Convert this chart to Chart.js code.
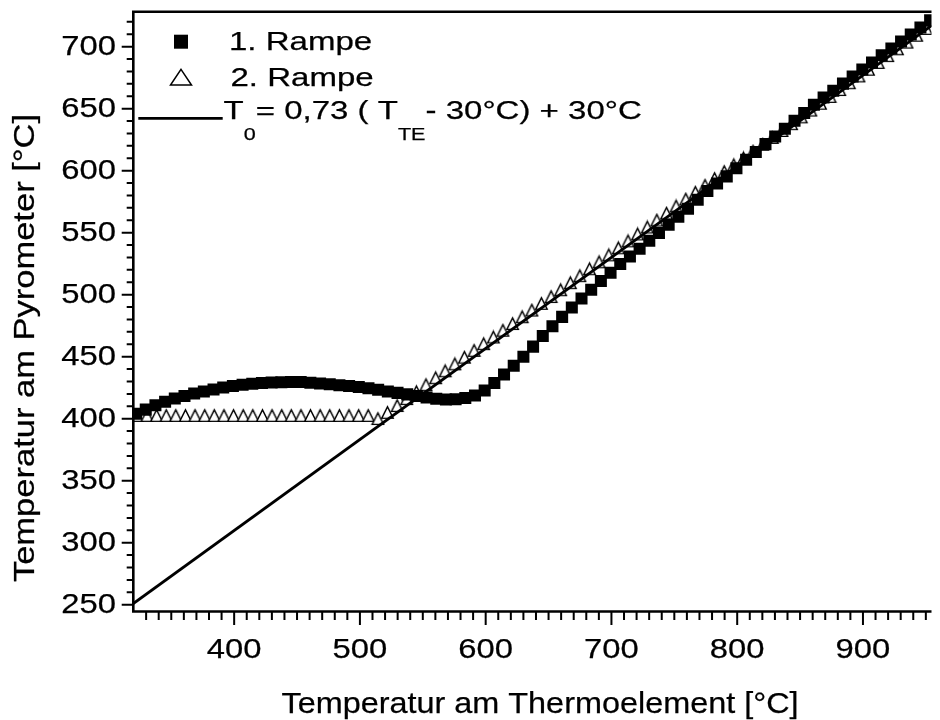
<!DOCTYPE html>
<html>
<head>
<meta charset="utf-8">
<script src="https://cdn.jsdelivr.net/npm/chart.js@4.4.1/dist/chart.umd.min.js"></script>
<style>
  html, body { margin: 0; padding: 0; background: #fff; }
  canvas { display: block; }
</style>
</head>
<body>
<canvas id="chart" width="940" height="720"></canvas>
<script>
// 1. Rampe (filled squares)
const rampe1X = [322, 329.7, 337.4, 345.1, 352.8, 360.5, 368.2, 375.9, 383.6, 391.3, 399, 406.7, 414.4, 422.1, 429.8,
    437.5, 445.2, 452.9, 460.6, 468.3, 476, 483.7, 491.4, 499.1, 506.8, 514.5, 522.2, 529.9, 537.6, 545.3, 553, 560.7,
    568.4, 576.1, 583.8, 591.5, 599.2, 606.9, 614.6, 622.3, 630, 637.7, 645.4, 653.1, 660.8, 668.5, 676.2, 683.9, 691.6,
    699.3, 707, 714.7, 722.4, 730.1, 737.8, 745.5, 753.2, 760.9, 768.6, 776.3, 784, 791.7, 799.4, 807.1, 814.8, 822.5,
    830.2, 837.9, 845.6, 853.3, 861, 868.7, 876.4, 884.1, 891.8, 899.5, 907.2, 914.9, 922.6, 930.3, 938, 945.7, 953.4]
const rampe1Y = [404.0, 407.3, 410.8, 413.6, 416.2, 418.3, 420.3, 422.0, 423.6, 425.2, 426.3, 427.3, 428.1, 428.7, 429.1,
    429.4, 429.6, 429.5, 429.0, 428.4, 427.7, 427.0, 426.3, 425.5, 424.5, 423.3, 422.0, 420.8, 419.6, 418.3, 417.0, 416.0,
    415.5, 415.7, 416.7, 418.6, 422.8, 428.8, 435.7, 442.6, 450.0, 458.1, 466.6, 474.6, 482.1, 489.6, 497.0, 503.9, 511.0,
    517.7, 524.7, 530.8, 537.1, 543.4, 549.8, 556.4, 562.8, 569.2, 576.6, 583.6, 589.7, 595.4, 602.0, 608.8, 615.0, 621.4,
    627.6, 633.8, 640.2, 646.6, 653.1, 659.0, 664.5, 670.2, 676.0, 681.6, 687.3, 693.0, 698.6, 704.2, 709.8, 715.5, 721.2]

// 2. Rampe (open triangles)
const rampe2X = [323, 330.7, 338.3, 346, 353.6, 361.3, 368.9, 376.6, 384.2, 391.9, 399.5, 407.2, 414.8, 422.5, 430.1,
    437.8, 445.4, 453.1, 460.7, 468.4, 476, 483.7, 491.3, 499, 506.6, 514.3, 521.9, 529.6, 537.2, 544.9, 552.5, 560.2,
    567.8, 575.5, 583.1, 590.8, 598.4, 606.1, 613.7, 621.4, 629, 636.7, 644.3, 652, 659.6, 667.3, 674.9, 682.6, 690.2,
    697.9, 705.5, 713.2, 720.8, 728.5, 736.1, 743.8, 751.4, 759.1, 766.7, 774.4, 782, 789.7, 797.3, 805, 812.6, 820.3,
    827.9, 835.6, 843.2, 850.9, 858.5, 866.2, 873.8, 881.5, 889.1, 896.8, 904.4, 912.1, 919.7, 927.4, 935, 942.7, 950.3]
const rampe2Y = [401, 401, 401, 401, 401, 401, 401, 401, 401, 401, 401, 401, 401, 401, 401,
    401, 401, 401, 401, 401, 401, 401, 401, 401, 401, 398.5, 403.5, 409.0, 414.6, 420.2, 425.8, 431.4,
    437.0, 442.6, 448.0, 453.5, 458.9, 464.3, 469.7, 475.1, 480.6, 486.0, 491.4, 496.9, 502.4, 508.1, 513.7, 519.3, 524.9,
    530.5, 536.2, 541.8, 547.4, 553.0, 558.6, 564.2, 569.9, 575.5, 581.0, 586.6, 592.1, 597.7, 603.2, 608.7, 614.2, 619.7,
    625.2, 630.8, 636.3, 641.8, 647.3, 652.8, 658.3, 663.8, 669.3, 674.8, 680.2, 685.7, 691.2, 696.7, 702.1, 707.6, 713.1]

// T0 = 0,73 (TTE - 30°C) + 30°C, as drawn
const fitX = [319.8, 954.5]
const fitY = [250.9, 717.0]

const xLabels = [400, 500, 600, 700, 800, 900]
const yLabels = [250, 300, 350, 400, 450, 500, 550, 600, 650, 700]
const X_MIN = 319.8, X_MAX = 954.5
const Y_MIN = 244.5, Y_MAX = 728.2

const FONT = '"Liberation Sans", Arial, sans-serif'

function toPoints(xs, ys) {
    return xs.map((x, i) => ({x: x, y: ys[i]}))
}

// open triangle, centroid in the middle of the image
function triangleImage(w, h, lw) {
    const c = document.createElement('canvas')
    c.width = Math.ceil(w + 2 * lw)
    c.height = Math.ceil(4 * h / 3 + 2 * lw)
    const g = c.getContext('2d')
    const cx = c.width / 2, cy = c.height / 2
    g.beginPath()
    g.moveTo(cx, cy - 2 * h / 3)
    g.lineTo(cx + w / 2, cy + h / 3)
    g.lineTo(cx - w / 2, cy + h / 3)
    g.closePath()
    g.fillStyle = '#fff'
    g.fill()
    g.strokeStyle = '#000'
    g.lineWidth = lw
    g.lineJoin = 'miter'
    g.stroke()
    return c
}

function text(ctx, str, x, y, size, sx, align, rot) {
    ctx.save()
    ctx.font = size + 'px ' + FONT
    ctx.textAlign = align
    ctx.textBaseline = 'alphabetic'
    ctx.fillStyle = '#000'
    ctx.strokeStyle = '#000'
    ctx.lineWidth = 0.25
    ctx.translate(x, y)
    if (rot) ctx.rotate(rot)
    ctx.scale(sx, 1)
    ctx.fillText(str, 0, 0)
    ctx.strokeText(str, 0, 0)
    ctx.restore()
}

// writes parts left to right, subscripts smaller and lowered
function richText(ctx, parts, x, y, size, subSize, subDrop, sx) {
    let cur = x
    parts.forEach(p => {
        const s = p.sub ? subSize : size
        ctx.save()
        ctx.font = s + 'px ' + FONT
        const w = ctx.measureText(p.t).width * sx
        ctx.restore()
        text(ctx, p.t, cur, y + (p.sub ? subDrop : 0), s, sx, 'left')
        cur += w
    })
}

const frame = {
    id: 'frame',
    afterDatasetsDraw(chart) {
        const ctx = chart.ctx
        const a = chart.chartArea
        const xs = chart.scales.x, ys = chart.scales.y
        ctx.save()
        ctx.strokeStyle = '#000'
        ctx.lineWidth = 2.6
        ctx.beginPath()
        ctx.moveTo(a.left - 1.3, a.bottom); ctx.lineTo(a.right, a.bottom)
        ctx.moveTo(a.left - 1.3, a.top); ctx.lineTo(a.right, a.top)
        ctx.moveTo(a.left, a.top); ctx.lineTo(a.left, a.bottom)
        ctx.stroke()

        // minor every 10, major at the labels
        ctx.lineWidth = 2
        ctx.beginPath()
        for (let v = 330; v <= X_MAX; v += 10) {
            const p = xs.getPixelForValue(v)
            const len = xLabels.includes(v) ? 13.5 : 8.5
            ctx.moveTo(p, a.bottom); ctx.lineTo(p, a.bottom + len)
        }
        for (let v = 250; v <= Y_MAX; v += 10) {
            const p = ys.getPixelForValue(v)
            const len = yLabels.includes(v) ? 11.6 : 6.6
            ctx.moveTo(a.left, p); ctx.lineTo(a.left - len, p)
        }
        ctx.stroke()
        ctx.restore()

        xLabels.forEach(v => text(ctx, String(v), xs.getPixelForValue(v), 658.3, 28.5, 1.15, 'center'))
        yLabels.forEach(v => text(ctx, String(v), 116, ys.getPixelForValue(v) + 8.3, 28.5, 1.15, 'right'))

        text(ctx, 'Temperatur am Thermoelement [°C]', 540, 713, 30, 1.08, 'center')
        text(ctx, 'Temperatur am Pyrometer [°C]', 34, 348, 30, 1.15, 'center', -Math.PI / 2)

        // legend
        ctx.save()
        ctx.fillStyle = '#000'
        ctx.fillRect(174, 34.7, 14, 14)
        ctx.beginPath()
        ctx.moveTo(181, 69.3)
        ctx.lineTo(191.5, 85)
        ctx.lineTo(170.5, 85)
        ctx.closePath()
        ctx.fillStyle = '#fff'
        ctx.fill()
        ctx.strokeStyle = '#000'
        ctx.lineWidth = 1.5
        ctx.stroke()
        ctx.lineWidth = 2.8
        ctx.beginPath()
        ctx.moveTo(138.3, 118.3); ctx.lineTo(222.7, 118.3)
        ctx.stroke()
        ctx.restore()

        text(ctx, '1. Rampe', 229, 50, 26, 1.27, 'left')
        text(ctx, '2. Rampe', 230.5, 85.5, 26, 1.27, 'left')
        richText(ctx, [
            {t: 'T'}, {t: '0', sub: true}, {t: '= 0,73 ( T'}, {t: 'TE', sub: true}, {t: '- 30°C) + 30°C'}
        ], 223.5, 119, 26, 17, 21, 1.27)
    }
}

new Chart(document.getElementById('chart'), {
    type: 'scatter',
    data: {
        datasets: [{
            label: '2. Rampe',
            data: toPoints(rampe2X, rampe2Y),
            pointStyle: triangleImage(11.5, 11.5, 1.4),
            pointRadius: 6,
            order: 2,
        }, {
            label: '1. Rampe',
            data: toPoints(rampe1X, rampe1Y),
            pointStyle: 'rect',
            pointRadius: 8.5,
            backgroundColor: '#000',
            borderColor: '#000',
            borderWidth: 0,
            order: 1,
        }, {
            label: 'T0',
            data: toPoints(fitX, fitY),
            showLine: true,
            borderColor: '#000',
            borderWidth: 2.8,
            pointRadius: 0,
            order: 0,
        }]
    },
    plugins: [frame],
    options: {
        responsive: false,
        animation: false,
        events: [],
        layout: { padding: { top: 11.7, left: 0, right: 0, bottom: 0 } },
        plugins: {
            legend: { display: false },
            tooltip: { enabled: false },
        },
        scales: {
            x: {
                type: 'linear',
                min: X_MIN,
                max: X_MAX,
                grid: { display: false },
                border: { display: false },
                ticks: { display: false },
                afterFit: (scale) => { scale.height = 108.5 },
            },
            y: {
                type: 'linear',
                min: Y_MIN,
                max: Y_MAX,
                grid: { display: false },
                border: { display: false },
                ticks: { display: false },
                afterFit: (scale) => { scale.width = 133.3 },
            }
        }
    }
});
</script>
</body>
</html>
